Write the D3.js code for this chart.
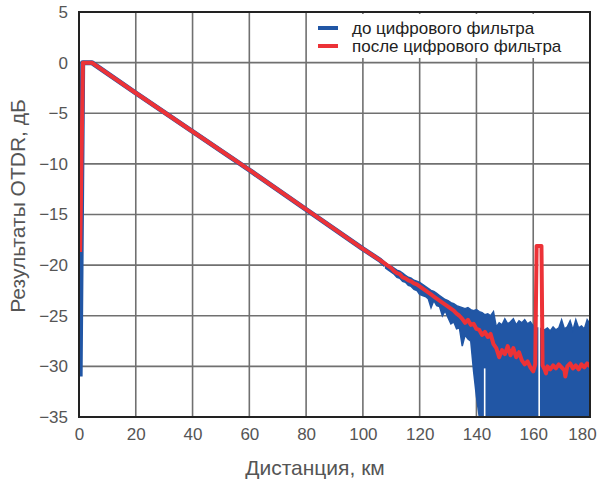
<!DOCTYPE html>
<html>
<head>
<meta charset="utf-8">
<script src="https://cdn.jsdelivr.net/npm/d3@7"></script>
<style>
  body { margin: 0; background: #fff; }
  text { font-family: "Liberation Sans", Arial, sans-serif; }
</style>
</head>
<body>
<div id="chart"></div>
<script>
const svgWidth = 600
const svgHeight = 483

const margin = { top: 12, right: 10, bottom: 66, left: 79 }
const chartWidth = svgWidth - margin.left - margin.right
const chartHeight = svgHeight - margin.top - margin.bottom

// axis ticks
const xTicks = [0, 20, 40, 60, 80, 100, 120, 140, 160, 180]
const yTicks = [5, 0, -5, -10, -15, -20, -25, -30, -35]

const seriesNames = ["до цифрового фильтра", "после цифрового фильтра"]
const seriesColors = ["#2156a5", "#ec3237"]

// blue trace, clean part (before the noise)
const blueLineKm = [0.4, 1.3, 4.5, 20, 40, 60, 80, 100, 106, 108]
const blueLineDb = [-31, 0, 0, -3.0, -6.8, -10.6, -14.5, -18.4, -19.5, -20.0]

// blue trace, noisy part: upper / lower envelope per km
const blueNoiseKm = d3.range(108, 181)
const blueHi = [-19.8, -20.0, -20.1, -20.3, -20.5, -20.6, -20.8, -21.0, -21.2, -21.3,
  -21.5, -21.6, -21.7, -21.9, -22.1, -22.3, -22.5, -22.6, -22.8, -23.0,
  -23.2, -23.4, -23.5, -23.7, -23.8, -24.0, -24.1, -24.2, -24.3, -24.2,
  -24.4, -24.5, -24.4, -24.6, -24.7, -24.9, -24.8, -25.0, -24.6, -26.1,
  -25.7, -25.9, -25.3, -25.8, -25.6, -25.3, -25.9, -25.5, -25.7, -25.4,
  -25.8, -25.6, -26.0, -26.2, -26.2, -26.3, -26.4, -26.2, -26.5, -26.1,
  -26.4, -26.2, -25.4, -26.3, -26.1, -25.5, -26.4, -25.4, -26.2, -26.0,
  -26.3, -25.4, -25.8]
const blueLo = [-20.3, -20.5, -20.7, -20.9, -21.2, -21.3, -21.6, -21.7, -22.0, -22.1,
  -22.4, -22.5, -22.9, -23.0, -23.1, -23.3, -24.2, -23.5, -24.0, -24.1,
  -25.0, -24.5, -25.2, -25.8, -25.6, -26.3, -26.2, -28.0, -26.9, -27.3,
  -27.5, -30.5, -33.0, -35, -35, -35, -35, -35, -35, -35,
  -35, -35, -35, -35, -35, -35, -35, -35, -35, -35,
  -35, -35, -35, -35, -35, -35, -35, -35, -35, -35,
  -35, -35, -35, -35, -35, -35, -35, -35, -35, -35,
  -35, -35, -35]

// holes in the blue trace (no samples)
const blueGapKm = [142.9, 162.1]
const blueGapTop = [-30.2, -18.5]

// red trace (after the digital filter)
const redKm = [0.4, 1.4, 4.5, 20, 40, 60, 80, 100, 106, 110,
  111, 112, 113, 114, 115, 116, 117, 118, 119, 120,
  121, 122, 123, 124, 125, 126, 127, 128, 129, 130,
  131, 132, 133, 134, 135, 136, 137, 138, 139, 140,
  141, 142, 143, 144, 145, 146, 147, 148, 149, 150,
  151, 152, 153, 154, 155, 156, 157, 158, 159, 160,
  160.7, 161.2, 162.9, 163.3, 164, 164.5, 165, 166, 167, 168,
  169, 170, 171, 171.3, 172, 173, 174, 175, 176, 177, 178, 179, 180]
const redDb = [-18.7, 0, 0, -3.0, -6.8, -10.6, -14.5, -18.4, -19.5, -20.3,
  -20.6, -20.8, -20.9, -21.2, -21.3, -21.5, -21.6, -21.8, -21.9, -22.1,
  -22.3, -22.5, -22.7, -22.9, -23.1, -23.3, -23.5, -23.7, -23.9, -24.1,
  -24.3, -24.5, -24.8, -25.0, -25.3, -25.7, -25.4, -25.9, -25.8, -26.3,
  -26.4, -26.9, -26.6, -27.1, -26.8, -27.8, -28.2, -29.1, -28.4, -28.8,
  -28.0, -28.9, -28.2, -29.1, -28.6, -29.4, -29.8, -29.5, -30.1, -30.5,
  -29.8, -18.1, -18.1, -29.9, -30.3, -30.7, -30.0, -30.3, -29.9, -30.2,
  -29.8, -30.1, -30.4, -31.0, -30.0, -29.7, -30.2, -29.9, -30.3, -29.8, -30.1, -29.7, -30.0]

const svg = d3.select("#chart").append("svg")
  .attr("width", svgWidth)
  .attr("height", svgHeight)

const chartG = svg.append("g")
  .attr("transform", `translate(${margin.left}, ${margin.top})`)

const x = d3.scaleLinear().domain([0, 180]).range([0, chartWidth])
const y = d3.scaleLinear().domain([-35, 5]).range([chartHeight, 0])

svg.append("clipPath").attr("id", "plot")
  .append("rect").attr("width", chartWidth).attr("height", chartHeight)

// grid
chartG.append("g").selectAll("line")
  .data(xTicks.slice(1, -1))
  .enter().append("line")
  .attr("x1", d => x(d)).attr("x2", d => x(d))
  .attr("y1", 0).attr("y2", chartHeight)
  .attr("stroke", "#707070").attr("stroke-width", 1.6)

chartG.append("g").selectAll("line")
  .data(yTicks.slice(1, -1))
  .enter().append("line")
  .attr("y1", d => y(d)).attr("y2", d => y(d))
  .attr("x1", 0).attr("x2", chartWidth)
  .attr("stroke", "#707070").attr("stroke-width", 1.6)

const plot = chartG.append("g").attr("clip-path", "url(#plot)")

const line = d3.line().x(d => x(d[0])).y(d => y(d[1]))

// blue
const noise = blueNoiseKm.map((k, i) => [k, blueHi[i], blueLo[i]])
plot.append("path")
  .datum(noise)
  .attr("d", d3.area().x(d => x(d[0])).y0(d => y(d[2])).y1(d => y(d[1])))
  .attr("fill", seriesColors[0])
  .attr("stroke", seriesColors[0]).attr("stroke-width", 1.5)

plot.append("path")
  .datum(blueLineKm.map((k, i) => [k, blueLineDb[i]]))
  .attr("d", line)
  .attr("fill", "none").attr("stroke", seriesColors[0])
  .attr("stroke-width", 5).attr("stroke-linejoin", "round")

plot.append("g").selectAll("line")
  .data(blueGapKm.map((k, i) => [k, blueGapTop[i]]))
  .enter().append("line")
  .attr("x1", d => x(d[0])).attr("x2", d => x(d[0]))
  .attr("y1", d => y(d[1])).attr("y2", y(-35))
  .attr("stroke", "#fff").attr("stroke-width", 1.6)

// red
plot.append("path")
  .datum(redKm.map((k, i) => [k, redDb[i]]))
  .attr("d", line)
  .attr("fill", "none").attr("stroke", seriesColors[1])
  .attr("stroke-width", 4).attr("stroke-linejoin", "round")

// frame
chartG.append("rect")
  .attr("width", chartWidth).attr("height", chartHeight)
  .attr("fill", "none").attr("stroke", "#222").attr("stroke-width", 2)

// axes
const yAxis = d3.axisLeft(y).tickValues(yTicks).tickSize(0).tickPadding(11)
const xAxis = d3.axisBottom(x).tickValues(xTicks).tickSize(0).tickPadding(11)

const yG = chartG.append("g").call(yAxis)
const xG = chartG.append("g").attr("transform", `translate(0, ${chartHeight})`).call(xAxis)
;[yG, xG].forEach(g => {
  g.select(".domain").remove()
  g.selectAll("text").attr("fill", "#555").style("font-size", "17px")
})
xG.selectAll("text").filter(d => d === 180).attr("dx", -8)

svg.append("text")
  .attr("transform", "translate(25, 206) rotate(-90)")
  .attr("text-anchor", "middle")
  .attr("fill", "#555").style("font-size", "21px")
  .text("Результаты OTDR, дБ")

svg.append("text")
  .attr("x", 315).attr("y", 475)
  .attr("text-anchor", "middle")
  .attr("fill", "#555").style("font-size", "21px")
  .text("Дистанция, км")

// legend
const legend = svg.append("g").attr("transform", "translate(308, 14)")
legend.append("rect").attr("width", 280).attr("height", 44).attr("fill", "#fff")
const items = legend.selectAll(".item")
  .data(seriesNames)
  .enter().append("g")
  .attr("transform", (d, i) => `translate(10, ${14 + i * 18})`)
items.append("line")
  .attr("x1", 0).attr("x2", 20)
  .attr("stroke", (d, i) => seriesColors[i]).attr("stroke-width", 4)
items.append("text")
  .attr("x", 34).attr("dy", "0.35em")
  .attr("fill", "#222").style("font-size", "17px")
  .text(d => d)
</script>
</body>
</html>
